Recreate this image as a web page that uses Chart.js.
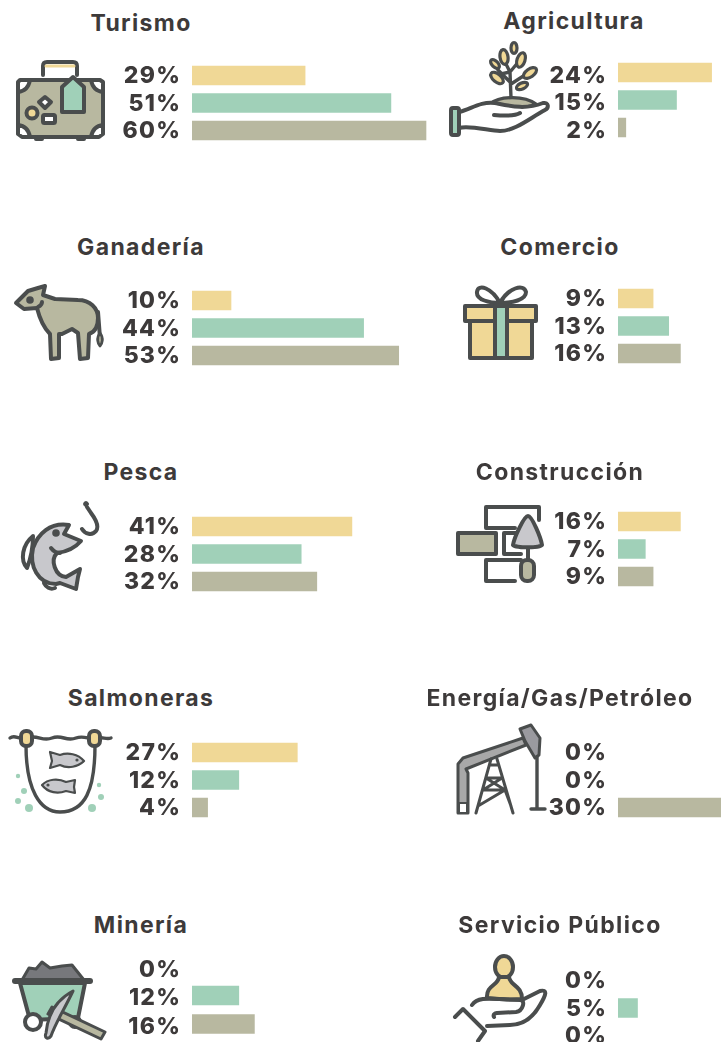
<!DOCTYPE html>
<html lang="es"><head><meta charset="utf-8">
<script src="https://cdn.jsdelivr.net/npm/chart.js@4"></script>
<style>
html,body{margin:0;padding:0;background:#fff;width:721px;height:1042px;overflow:hidden}
#page{position:relative;width:721px;height:1042px;overflow:hidden}
canvas{position:absolute}
.t{position:absolute;transform:translate(-50%,-50%);font:700 23px Inter,sans-serif;letter-spacing:1.35px;color:#3d3a3a;white-space:nowrap}
svg{position:absolute;left:0;top:0}
svg .k{stroke:#4a4d4d;stroke-width:4;stroke-linecap:round;stroke-linejoin:round}
</style></head><body><div id="page">
<svg width="721" height="1042" viewBox="0 0 721 1042" fill="none">
<g class="k">
<!-- suitcase -->
<path d="M43 75V66Q43 62 47 62H73Q77 62 77 66V75" />
<path d="M46 66H74" stroke="#f0d896" stroke-width="3"/>
<rect x="18" y="80" width="85" height="57" rx="8" fill="#b8b8a0"/>
<path d="M18 92Q28 91 30 80H20L18 82ZM103 92Q93 91 91 80H100L103 82ZM18 125Q28 126 30 137H22L18 134ZM103 125Q93 126 91 137H99L103 134Z" fill="#fff"/>
<path d="M62 87L73 77L84 87V112H62Z" fill="#a0d0b8"/>
<path d="M45 97L51 102L45 108L39 102Z" fill="#fff"/>
<circle cx="32" cy="113" r="5.5" fill="#f0d896"/>
<rect x="43" y="115" width="12" height="8" rx="1.5" fill="#fff"/>
<path d="M36 139H42M78 139H84"/>
<!-- plant -->
<path d="M511 98L510 72M510 82L498 70M510 72L520 60M511 84L528 73M510 72L505 62M510 72L501 74" stroke-width="3.4"/>
<path d="M490 104C500 95 525 96 536 104C522 110 500 110 490 104Z" fill="#b8b8a0" stroke-width="3.4"/>
<path d="M459 112C470 110 480 101 495 103C510 106 525 110 543 103C549 102 549 108 545 110C530 118 515 131 500 131C490 131 470 125 459 128Z" fill="#fff"/>
<path d="M494 115C505 116 515 116 520 113" />
<rect x="451" y="108" width="8" height="27" rx="2" fill="#a0d0b8"/>
<g fill="#f0d896" stroke-width="3.2">
<ellipse cx="514" cy="48" rx="3" ry="5.5"/>
<ellipse cx="504" cy="57" rx="4" ry="7.5" transform="rotate(-8 504 57)"/>
<ellipse cx="521" cy="60" rx="4" ry="7.5" transform="rotate(18 521 60)"/>
<ellipse cx="495" cy="64" rx="3" ry="5.5" transform="rotate(-45 495 64)"/>
<ellipse cx="497" cy="78" rx="4" ry="7.5" transform="rotate(-50 497 78)"/>
<ellipse cx="530" cy="73" rx="4" ry="7.5" transform="rotate(55 530 73)"/>
<ellipse cx="522" cy="86" rx="3" ry="6" transform="rotate(65 522 86)"/>
</g>
<!-- cow -->
<path d="M16 303L28 291L38 288L45 286L43 295L55 299L78 300C90 300 98 308 98 318C98 326 95 332 89 334L88 358L80 359L78 333L72 329L62 334L59 334L59 358L51 359L50 334C42 326 39 316 37 308L24 309Z" fill="#b8b8a0"/>
<path d="M98 312L100 338"/>
<path d="M100 333C104 338 102 344 100 346C98 344 96 338 100 333Z" fill="#b8b8a0" stroke-width="2.8"/>
<circle cx="30" cy="300" r="1.8" fill="#4a4d4d"/>
<path d="M42 302C42 304 40 306 38 307"/>
<!-- gift -->
<path d="M500 303C492 288 478 283 477 292C476 300 490 303 500 303C508 288 524 283 526 292C526 300 512 303 500 303" />
<rect x="470" y="321" width="62" height="37" fill="#f0d896"/>
<rect x="465" y="306" width="71" height="15" fill="#f0d896"/>
<rect x="495" y="306" width="12" height="52" fill="#a0d0b8"/>
<!-- fish -->
<path d="M87 507L91 513C97 521 99 527 96 531C92 536 85 534 82 529"/>
<circle cx="86" cy="504" r="2.4" fill="#4a4d4d" stroke-width="1"/>
<path d="M33 536C22 545 20 560 27 568C31 558 33 545 33 536Z" fill="#fff"/>
<path d="M69 525C50 522 38 534 33 548C29 566 38 584 56 584L60 583L76 589L78 577L80 569L66 577C55 576 50 560 57 553C65 552 75 548 81 541L64 534L69 525Z" fill="#c8c8cc"/>
<path d="M44 583C46 587 50 590 55 588"/>
<circle cx="56" cy="533" r="1.8" fill="#4a4d4d"/>
<path d="M51 548C54 552 57 553 60 553"/>
<!-- bricks -->
<path d="M539 520V507H486V528H515M519 533H504V554H521M521 560H486V581H515"/>
<rect x="458" y="533" width="38" height="21" fill="#b8b8a0"/>
<path d="M528 516C532 516 541 538 542 545C542 548 514 548 513 545C514 538 524 516 528 516Z" fill="#c8c8cc"/>
<path d="M528 549V560"/>
<rect x="521" y="560" width="13" height="21" rx="6" fill="#b8b8a0"/>
<!-- net -->
<path d="M10 738C15 734 18 740 26 738C38 734 42 742 52 738C62 734 66 742 76 738C84 735 90 740 95 738C102 736 106 740 111 738" stroke-width="3.4"/>
<path d="M26 745C26 790 40 812 60 812C85 812 95 790 95 745" stroke-width="3.4"/>
<rect x="21" y="731" width="11" height="15" rx="5" fill="#f0d896"/>
<rect x="89" y="731" width="11" height="15" rx="5" fill="#f0d896"/>
<g stroke-width="2.2" fill="#c8c8cc">
<path d="M50 752L52 761L50 768L60 765C68 769 78 767 84 761C78 754 68 752 60 755Z"/>
<path d="M75 780L74 787L75 793L66 791C58 794 48 793 42 785C48 779 58 778 66 782Z"/>
</g>
<g stroke="none" fill="#4a4d4d">
<circle cx="77" cy="760" r="1.6"/><circle cx="48" cy="785" r="1.6"/>
</g>
<g stroke="none" fill="#a0d0b8">
<circle cx="18" cy="776" r="2.2"/><circle cx="24" cy="791" r="3"/><circle cx="18" cy="801" r="3"/><circle cx="29" cy="808" r="4"/>
<circle cx="92" cy="808" r="4"/><circle cx="101" cy="797" r="3"/><circle cx="99" cy="785" r="2.2"/>
</g>
<!-- pump -->
<path d="M458 773V764L463 758L523 738L526 745L466 769L468 773V813H458Z" fill="#a8a8a8" stroke-width="3"/>
<path d="M459 803H467V813H459Z" fill="#fff" stroke-width="2"/>
<path d="M520 729L531 725L540 738L539 755L535 758L525 741Z" fill="#9a9a9f" stroke-width="3"/>
<path d="M537 757V809M531 809H545" stroke-width="3.4"/>
<path d="M491 759L476 813M497 759L513 813M490 765H498M486 778H502M483 790H505L478 806M505 790L511 806M486 778L505 790M502 778L483 790" stroke-width="3"/>
<!-- cart -->
<path d="M22 980L29 968L36 969L42 962L50 968L62 966L72 965L84 980Z" fill="#77787c" stroke-width="3"/>
<path d="M20 983H85L78 1018L30 1020Z" fill="#a0d0b8"/>
<circle cx="33" cy="1022" r="8" fill="#fff"/>
<circle cx="75" cy="1022" r="5" fill="#fff"/>
<path d="M15 981H90" stroke-width="6"/>
<path d="M52 1007L105 1032L101 1039L48 1014Z" fill="#b8b8a0" stroke-width="3"/>
<path d="M73 991C64 1010 56 1022 51 1036C48 1040 44 1038 46 1033C48 1012 58 999 73 991Z" fill="#c8c8cc" stroke-width="3"/>
<!-- person in hand -->
<ellipse cx="504" cy="967" rx="9" ry="11" fill="#f0d896"/>
<path d="M487 998C486 985 498 986 499 977H509C510 986 522 985 522 999C512 1000 496 999 487 998Z" fill="#f0d896"/>
<path d="M472 1005C478 996 490 999 520 1000C526 1000 523 1011 516 1012L497 1013C492 1014 494 1017 494 1017"/>
<path d="M522 1000L540 991C548 989 546 995 540 1005C531 1021 520 1025 510 1025L487 1026"/>
<path d="M455 1017L463 1009L485 1031L478 1041"/>
</g>
</svg>
</div>
<script>
const sectors = ["Turismo","Agricultura","Ganadería","Comercio","Pesca","Construcción","Salmoneras","Energía/Gas/Petróleo","Minería","Servicio Público"];
const yellowSeries = [29,24,10,9,41,16,27,0,0,0];
const greenSeries  = [51,15,44,13,28,7,12,0,12,5];
const khakiSeries  = [60,2,53,16,32,9,4,30,16,0];
const barColors = ["#f0d896","#a0d0b8","#b8b8a0"];

const titleCX = [141,574,141,560,141,560,141,560,141,560];
const titleCY = [23,21,247,247,472,472,698,698,925,925];
const firstBarTop = [66,63,291,289,517,512,743,743,957.5,971];
const rowStep = [27.5,27.5,27.5,27.5,27.5,27.5,27.5,27.5,28.5,27.5];
const labelShift = [1,3.5,1,1,1,1,1,1,3,1];

const PX_PER_UNIT = 3.9, AXIS_W = 92, AREA_W = 300, CANVAS_H = 150, BAR = 19;
const page = document.getElementById('page');
const spacing = {id:'sp',beforeDraw(c){ if('letterSpacing' in c.ctx) c.ctx.letterSpacing='1.2px'; }};

sectors.forEach((name,i)=>{
  const t = document.createElement('div');
  t.className='t'; t.textContent=name;
  t.style.left=titleCX[i]+'px'; t.style.top=titleCY[i]+'px';
  page.appendChild(t);

  const areaLeft = i%2===0 ? 192 : 618;
  const step = rowStep[i];
  const areaTop = firstBarTop[i] + BAR/2 - step/2;
  const cTop = Math.floor(areaTop) - 30;
  const cv = document.createElement('canvas');
  cv.style.left=(areaLeft-AXIS_W)+'px'; cv.style.top=cTop+'px';
  cv.style.width=(AXIS_W+AREA_W)+'px'; cv.style.height=CANVAS_H+'px';
  cv.width=AXIS_W+AREA_W; cv.height=CANVAS_H;
  page.appendChild(cv);

  const values=[yellowSeries[i],greenSeries[i],khakiSeries[i]];
  new Chart(cv,{
    type:'bar',
    data:{labels:values.map(v=>v+'%'),
      datasets:[{data:values,backgroundColor:values.map((v,k)=>v>0?barColors[k]:'transparent'),barThickness:BAR,borderWidth:0}]},
    plugins:[spacing],
    options:{
      indexAxis:'y',responsive:false,animation:false,
      layout:{autoPadding:false,padding:{top:areaTop-cTop,bottom:CANVAS_H-(areaTop-cTop)-3*step,left:0,right:0}},
      plugins:{legend:{display:false},tooltip:{enabled:false},title:{display:false}},
      scales:{
        x:{display:false,min:0,max:AREA_W/PX_PER_UNIT},
        y:{
          grid:{display:false,drawTicks:false},border:{display:false},
          afterFit(s){s.width=AXIS_W;},
          ticks:{padding:11,color:'#3d3a3a',labelOffset:labelShift[i],font:{family:'Inter',size:23,weight:'800'},autoSkip:false}
        }
      }
    }
  });
});
</script></body></html>
